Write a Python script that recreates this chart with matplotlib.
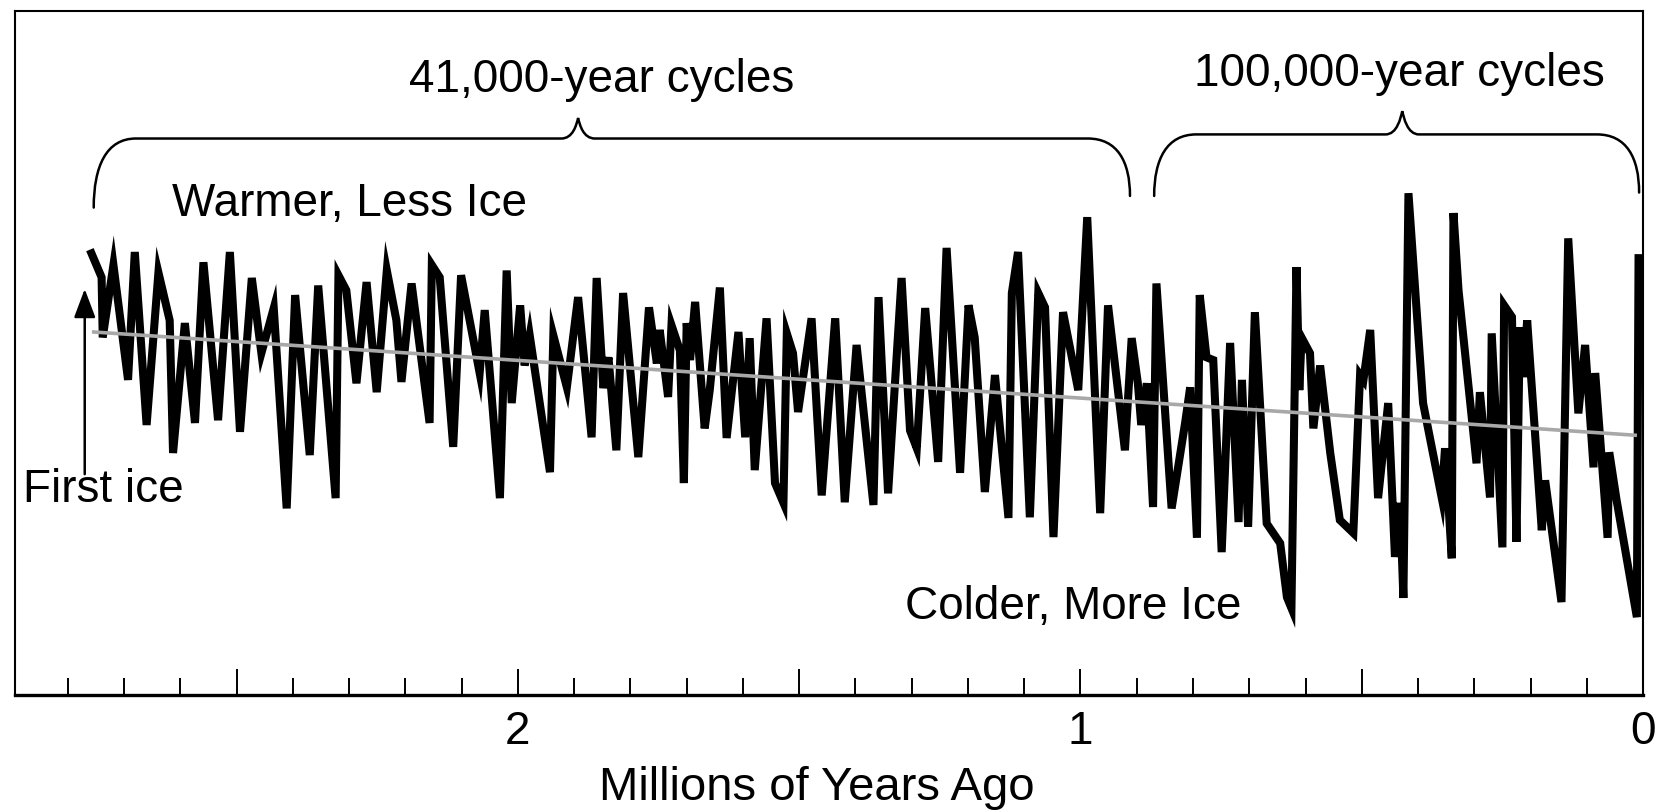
import numpy as np
import matplotlib.pyplot as plt
from matplotlib.path import Path
from matplotlib.patches import PathPatch
from matplotlib.ticker import MultipleLocator, FuncFormatter

plt.rcParams['font.family'] = ['Liberation Sans', 'DejaVu Sans']

# ice record
# age in millions of years ago, value on a relative 0-100 scale (up = warmer, less ice)
age = [2.758, 2.740, 2.738, 2.719, 2.693, 2.681, 2.660, 2.639, 2.619, 2.613,
       2.592, 2.574, 2.559, 2.533, 2.512, 2.494, 2.473, 2.456, 2.434, 2.411,
       2.396, 2.370, 2.355, 2.324, 2.319, 2.305, 2.287, 2.269, 2.251, 2.233,
       2.216, 2.207, 2.189, 2.157, 2.153, 2.139, 2.115, 2.101, 2.068, 2.059,
       2.032, 2.020, 2.011, 1.996, 1.988, 1.979, 1.943, 1.937, 1.913, 1.893,
       1.869, 1.860, 1.848, 1.839, 1.825, 1.813, 1.786, 1.767, 1.753, 1.748,
       1.733, 1.727, 1.712, 1.705, 1.700, 1.694, 1.685, 1.668, 1.659, 1.641,
       1.629, 1.608, 1.596, 1.588, 1.579, 1.558, 1.543, 1.528, 1.522, 1.511,
       1.502, 1.478, 1.460, 1.436, 1.419, 1.398, 1.368, 1.359, 1.342, 1.318,
       1.303, 1.291, 1.276, 1.253, 1.238, 1.214, 1.199, 1.188, 1.170, 1.152,
       1.128, 1.122, 1.111, 1.090, 1.075, 1.063, 1.048, 1.031, 1.019, 1.004,
       0.988, 0.965, 0.951, 0.921, 0.909, 0.898, 0.892, 0.882, 0.871, 0.865,
       0.838, 0.814, 0.805, 0.793, 0.788, 0.776, 0.764, 0.749, 0.734, 0.719,
       0.713, 0.702, 0.690, 0.669, 0.645, 0.633, 0.625, 0.616, 0.611, 0.607,
       0.592, 0.586, 0.574, 0.556, 0.539, 0.515, 0.503, 0.497, 0.485, 0.471,
       0.453, 0.441, 0.432, 0.426, 0.417, 0.391, 0.358, 0.352, 0.340, 0.337,
       0.328, 0.296, 0.290, 0.272, 0.269, 0.250, 0.247, 0.233, 0.225, 0.219,
       0.213, 0.206, 0.180, 0.174, 0.145, 0.133, 0.115, 0.103, 0.088, 0.085,
       0.063, 0.060, 0.047, 0.011, 0.008]
value = [64.6, 61.1, 52.3, 62.9, 46.1, 64.8, 39.5, 61.8, 54.8, 35.4,
         54.4, 39.8, 63.3, 40.2, 64.8, 38.5, 61.0, 50.0, 56.6, 27.3,
         58.5, 35.1, 59.9, 28.8, 61.4, 59.2, 45.6, 60.4, 44.3, 62.1,
         54.8, 45.8, 60.2, 39.8, 62.9, 61.1, 36.3, 61.4, 47.1, 56.3,
         28.8, 62.1, 42.7, 57.0, 48.2, 52.6, 32.6, 52.6, 45.0, 58.2,
         37.7, 61.0, 44.9, 49.4, 35.8, 58.8, 34.8, 56.7, 48.5, 53.4,
         43.6, 54.1, 50.4, 31.0, 54.4, 49.0, 57.5, 39.0, 44.6, 59.6,
         37.6, 53.1, 37.7, 52.2, 32.9, 55.1, 31.0, 28.1, 52.9, 50.0,
         41.4, 55.1, 29.2, 55.1, 28.2, 51.2, 27.8, 58.2, 29.5, 61.0,
         38.7, 36.1, 56.6, 34.1, 65.4, 32.5, 57.0, 52.3, 29.7, 46.8,
         25.9, 58.8, 64.8, 26.0, 58.8, 56.7, 23.1, 56.0, 50.9, 44.6,
         69.9, 26.6, 57.0, 35.8, 52.2, 45.6, 39.5, 45.6, 27.5, 60.2,
         27.3, 39.8, 45.0, 23.0, 58.5, 49.4, 49.0, 20.9, 51.5, 25.3,
         46.1, 24.6, 56.0, 25.1, 22.2, 14.3, 12.7, 62.6, 44.6, 52.3,
         50.0, 39.0, 48.2, 35.4, 25.6, 23.7, 46.8, 46.1, 53.4, 28.8,
         42.7, 20.2, 28.1, 14.2, 73.4, 42.7, 28.9, 36.1, 20.0, 70.5,
         59.2, 33.9, 44.3, 28.9, 52.9, 21.6, 57.0, 55.3, 22.4, 53.8,
         46.5, 54.8, 24.1, 31.4, 13.6, 66.8, 41.2, 51.2, 33.3, 47.1,
         23.0, 35.5, 28.5, 11.4, 63.9]

# long-term trend line (grey)
trend_age = [2.754, 0.014]
trend_value = [53.1, 38.0]

# braces: left end, right end, peak (ages) and end / bar / peak heights
brace_41k = dict(a=2.754, b=0.912, peak=1.893, end_a=71.3, end_b=73.0, bar=81.4, top=84.4)
brace_100k = dict(a=0.869, b=0.007, peak=0.428, end_a=73.0, end_b=73.5, bar=82.0, top=85.4)

labels = [
    ("41,000-year cycles", 1.852, 89.9, 'center'),
    ("100,000-year cycles", 0.434, 90.8, 'center'),
    ("Warmer, Less Ice", 2.299, 71.8, 'center'),
    ("Colder, More Ice", 1.013, 12.9, 'center'),
    ("First ice", 2.880, 30.0, 'left'),
]
first_ice = dict(age=2.770, tail=31.9, tip=59.8)


def brace(ax, a, b, peak, end_a, end_b, bar, top, curl=0.075, half=0.03):
    verts = [(a, end_a),
             (a, end_a + 0.6 * (bar - end_a)), (a - 0.3 * curl, bar), (a - curl, bar),
             (peak + half, bar),
             (peak + 0.3 * half, bar), (peak + 0.1 * half, top - 1.0), (peak, top),
             (peak - 0.1 * half, top - 1.0), (peak - 0.3 * half, bar), (peak - half, bar),
             (b + curl, bar),
             (b + 0.3 * curl, bar), (b, end_b + 0.6 * (bar - end_b)), (b, end_b)]
    codes = [Path.MOVETO] + [Path.CURVE4] * 3 + [Path.LINETO] + [Path.CURVE4] * 6 \
        + [Path.LINETO] + [Path.CURVE4] * 3
    ax.add_patch(PathPatch(Path(verts, codes), fill=False, lw=1.8, color='black',
                           capstyle='round'))


fig = plt.figure(figsize=(16.63, 8.11), dpi=100)
ax = fig.add_axes([0.009, 0.143, 0.979, 0.843])

ax.plot(age, value, color='black', lw=5.8, solid_joinstyle='miter', zorder=3)
ax.plot(trend_age, trend_value, color='#a8a8a8', lw=2.6, zorder=4)

brace(ax, **brace_41k)
brace(ax, **brace_100k)

for txt, x, y, ha in labels:
    ax.text(x, y, txt, fontsize=33, ha=ha, va='center')

ax.annotate('', xy=(first_ice['age'], first_ice['tip']),
            xytext=(first_ice['age'], first_ice['tail']),
            arrowprops=dict(arrowstyle='-|>,head_length=0.8,head_width=0.3',
                            mutation_scale=22, color='black', lw=1.8))

ax.set_xlim(2.894, 0)
ax.set_ylim(0, 100)
ax.set_yticks([])

ax.xaxis.set_major_locator(MultipleLocator(0.5))
ax.xaxis.set_minor_locator(MultipleLocator(0.1))
ax.xaxis.set_major_formatter(FuncFormatter(
    lambda v, p: f"{v:.0f}" if abs(v - round(v)) < 1e-6 else ""))
ax.tick_params(axis='x', which='major', direction='in', length=19, width=1.4,
               labelsize=33, pad=11)
ax.tick_params(axis='x', which='minor', direction='in', length=12, width=1.4)

for side in ['top', 'left', 'right']:
    ax.spines[side].set_linewidth(1.5)
ax.spines['bottom'].set_linewidth(2.4)

ax.set_xlabel("Millions of Years Ago", fontsize=34)
ax.xaxis.set_label_coords(0.4926, -0.136)
ax.xaxis.label.set_va('center')

fig.savefig('out.png', dpi=100)
